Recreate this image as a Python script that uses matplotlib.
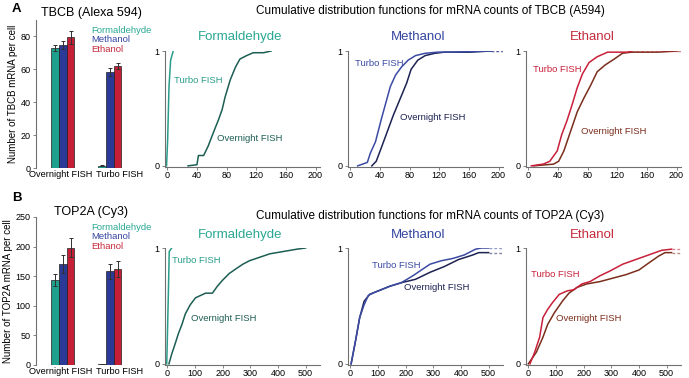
import numpy as np
import matplotlib.transforms as mtransforms
from matplotlib import pyplot as plt

plt.rcParams['font.family'] = ['Liberation Sans', 'DejaVu Sans']

W, H = 689, 378

# bar chart data
groups = ['Overnight FISH', 'Turbo FISH']
fixatives = ['Formaldehyde', 'Methanol', 'Ethanol']
tbcb_mean = [[73, 75, 79.5], [1.5, 58.5, 62]]
tbcb_err = [[2, 2.5, 4], [0.3, 2.5, 2]]
top2a_mean = [[144, 171, 198], [2, 158, 162]]
top2a_err = [[10, 15, 16], [0.5, 12, 14]]

bar_colors = ['#1fa08c', '#2b3a96', '#c51f38']
title_colors = ['#2aa893', '#3445a0', '#c42a3c']
turbo_colors = ['#2a9d8a', '#3b4ba4', '#c8203a']
over_colors = ['#1d5e54', '#1c2252', '#7a2e1c']

# CDF curves: (x values, cumulative fraction)
tbcb_form_turbo = ([-1, 0.5, 2.3, 4.5, 8], [0, 0.23, 0.69, 0.92, 1.0])
tbcb_form_over = ([28, 40, 42, 49, 55, 64, 69, 74, 78, 85, 92, 98, 107, 116, 130, 140],
                  [0, 0.01, 0.09, 0.09, 0.17, 0.32, 0.40, 0.49, 0.60, 0.75, 0.86, 0.93, 0.96, 0.985, 0.985, 1.0])
tbcb_meth_turbo = ([10, 23, 27, 34, 42, 48, 54, 61, 69, 78, 88, 101, 118, 135, 190],
                   [0, 0.03, 0.11, 0.21, 0.41, 0.55, 0.69, 0.79, 0.86, 0.92, 0.96, 0.98, 0.99, 0.99, 1.0])
tbcb_meth_over = ([29, 35, 42, 50, 58, 67, 76, 82, 91, 101, 114, 127, 161, 190],
                  [0, 0.04, 0.16, 0.30, 0.44, 0.58, 0.72, 0.84, 0.92, 0.96, 0.98, 0.99, 0.99, 1.0])
tbcb_eth_turbo = ([4, 20, 29, 39, 45, 52, 59, 66, 73, 82, 93, 107, 134, 139],
                  [0, 0.015, 0.04, 0.13, 0.27, 0.39, 0.53, 0.68, 0.80, 0.90, 0.95, 0.99, 0.99, 1.0])
tbcb_eth_over = ([7, 34, 41, 48, 57, 66, 75, 84, 93, 104, 116, 127, 139, 175, 200],
                 [0, 0.015, 0.04, 0.13, 0.30, 0.47, 0.59, 0.70, 0.82, 0.88, 0.93, 0.98, 0.99, 0.99, 1.0])

top2a_form_turbo = ([-2, 0, 4, 7, 16], [0, 0.2, 0.62, 0.97, 1.0])
top2a_form_over = ([6, 16, 28, 40, 53, 65, 83, 102, 120, 138, 163, 181, 199, 224, 248, 273, 297, 334, 371, 420, 469, 500],
                   [0, 0.085, 0.17, 0.26, 0.34, 0.43, 0.51, 0.57, 0.59, 0.61, 0.61, 0.67, 0.72, 0.78, 0.82, 0.86, 0.89, 0.92, 0.95, 0.97, 0.99, 1.0])
top2a_meth_turbo = ([3, 19, 34, 50, 65, 81, 112, 143, 184, 226, 257, 288, 329, 371, 412, 453, 474, 500],
                    [0, 0.2, 0.4, 0.51, 0.59, 0.61, 0.64, 0.67, 0.70, 0.76, 0.81, 0.86, 0.89, 0.91, 0.94, 0.99, 1.0, 1.0])
top2a_meth_over = ([3, 19, 34, 50, 70, 101, 143, 184, 236, 288, 340, 391, 443, 464, 500],
                   [0, 0.2, 0.4, 0.54, 0.60, 0.63, 0.67, 0.70, 0.73, 0.79, 0.84, 0.90, 0.94, 0.96, 0.96])
top2a_eth_turbo = ([6, 23, 41, 53, 70, 88, 112, 141, 165, 194, 223, 259, 294, 341, 388, 435, 482, 518],
                   [0, 0.10, 0.23, 0.40, 0.47, 0.53, 0.60, 0.63, 0.64, 0.69, 0.71, 0.76, 0.80, 0.86, 0.90, 0.94, 0.98, 0.99])
top2a_eth_over = ([0, 29, 53, 70, 94, 123, 147, 176, 212, 259, 306, 353, 400, 435, 471, 494, 518],
                  [0, 0.10, 0.23, 0.34, 0.44, 0.54, 0.61, 0.66, 0.69, 0.71, 0.74, 0.77, 0.81, 0.87, 0.93, 0.96, 0.96])

# label positions (data coords) for the in-panel texts
tbcb_label_pos = [((9, 0.74), (67, 0.24)), ((7, 0.89), (67, 0.42)), ((7, 0.84), (71, 0.30))]
top2a_label_pos = [((16, 0.89), (87, 0.39)), ((79, 0.85), (195, 0.66)), ((10, 0.77), (99, 0.39))]

fig = plt.figure(figsize=(W / 100, H / 100), dpi=100)


def px_axes(left, top, right, bottom):
    return fig.add_axes([left / W, 1 - bottom / H, (right - left) / W, (bottom - top) / H])


def style_axes(ax):
    for s in ['top', 'right']:
        ax.spines[s].set_visible(False)
    for s in ['left', 'bottom']:
        ax.spines[s].set_color('#707070')
        ax.spines[s].set_linewidth(0.8)
    ax.tick_params(direction='out', length=2.5, width=0.6, color='#707070',
                   labelsize=6.5, pad=1.5)
    ax.tick_params(axis='x', length=2, pad=0.8)


def bar_panel(ax, means, errs, ymax, yticks, ylabel):
    width = 0.165
    x = np.arange(len(groups))
    for i, fx in enumerate(fixatives):
        vals = [m[i] for m in means]
        e = [er[i] for er in errs]
        ax.bar(x + (i - 1) * width, vals, width, yerr=e, color=bar_colors[i],
               edgecolor='#202020', linewidth=0.5,
               error_kw=dict(ecolor='#303030', elinewidth=0.7, capsize=1.5, capthick=0.7))
        ax.text(0.5, [0.93, 0.865, 0.80][i], fx, transform=ax.transAxes,
                color=title_colors[i], fontsize=6.8, va='center')
    style_axes(ax)
    ax.spines['bottom'].set_visible(False)
    ax.set_xlim(-0.57, 1.77)
    ax.set_ylim(0, ymax)
    ax.set_yticks(yticks)
    ax.set_xticks(x)
    ax.set_xticklabels(groups, fontsize=6.6)
    ax.tick_params(axis='x', length=0, pad=1.5)
    # nudge labels apart like the original
    for lab, dx in zip(ax.get_xticklabels(), [-2, 10]):
        lab.set_transform(lab.get_transform() +
                          mtransforms.ScaledTranslation(dx / 100, 0, fig.dpi_scale_trans))
    ax.set_ylabel(ylabel, fontsize=7, labelpad=2)


def cdf_panel(ax, turbo, over, k, xmax, xticks, labels, dashed):
    style_axes(ax)
    for curve, col in [(over, over_colors[k]), (turbo, turbo_colors[k])]:
        ax.plot(curve[0], curve[1], color=col, lw=1.1)
        if dashed:
            ax.plot([curve[0][-1], xmax], [curve[1][-1]] * 2, color=col,
                    lw=1.0, ls=(0, (2, 1.5)), alpha=0.55)
    (tx, ty), (ox, oy) = labels
    ax.text(tx, ty, 'Turbo FISH', color=turbo_colors[k], fontsize=6.8, va='center')
    ax.text(ox, oy, 'Overnight FISH', color=over_colors[k], fontsize=6.8, va='center')
    ax.set_xlim(xticks[0] - 0.015 * xmax, xmax)
    ax.set_ylim(-0.01, 1.0)
    ax.set_xticks(xticks)
    ax.set_yticks([0, 1])
    ax.set_yticklabels(['0', '1'])


lefts = [165, 348, 526]
centers = [240, 418, 592]
pw = 155

# row A
ax = px_axes(36, 20, 146, 168)
bar_panel(ax, tbcb_mean, tbcb_err, 90, [0, 20, 40, 60, 80], 'Number of TBCB mRNA per cell')
tb = [(tbcb_form_turbo, tbcb_form_over), (tbcb_meth_turbo, tbcb_meth_over),
      (tbcb_eth_turbo, tbcb_eth_over)]
for k in range(3):
    ax = px_axes(lefts[k], 51, lefts[k] + pw, 167)
    cdf_panel(ax, tb[k][0], tb[k][1], k, 206, [0, 40, 80, 120, 160, 200],
              tbcb_label_pos[k], k > 0)
    fig.text(centers[k] / W, 1 - 37 / H, fixatives[k], ha='center', va='center',
             color=title_colors[k], fontsize=9.5)

# row B
ax = px_axes(36, 217, 146, 365)
bar_panel(ax, top2a_mean, top2a_err, 250, [0, 50, 100, 150, 200, 250], 'Number of TOP2A mRNA per cell')
tp = [(top2a_form_turbo, top2a_form_over), (top2a_meth_turbo, top2a_meth_over),
      (top2a_eth_turbo, top2a_eth_over)]
for k in range(3):
    ax = px_axes(lefts[k], 248, lefts[k] + pw, 365)
    cdf_panel(ax, tp[k][0], tp[k][1], k, 552, [0, 100, 200, 300, 400, 500],
              top2a_label_pos[k], k > 0)
    fig.text(centers[k] / W, 1 - 235 / H, fixatives[k], ha='center', va='center',
             color=title_colors[k], fontsize=9.5)

# headings
fig.text(12 / W, 1 - 9 / H, 'A', fontsize=9.5, fontweight='bold', va='center')
fig.text(12 / W, 1 - 198 / H, 'B', fontsize=9.5, fontweight='bold', va='center')
fig.text(91 / W, 1 - 13 / H, 'TBCB (Alexa 594)', fontsize=9, ha='center', va='center')
fig.text(91 / W, 1 - 212 / H, 'TOP2A (Cy3)', fontsize=9, ha='center', va='center')
fig.text(430 / W, 1 - 11 / H, 'Cumulative distribution functions for mRNA counts of TBCB (A594)',
         fontsize=8.5, ha='center', va='center')
fig.text(430 / W, 1 - 216 / H, 'Cumulative distribution functions for mRNA counts of TOP2A (Cy3)',
         fontsize=8.5, ha='center', va='center')

fig.savefig('out.png', dpi=100)
